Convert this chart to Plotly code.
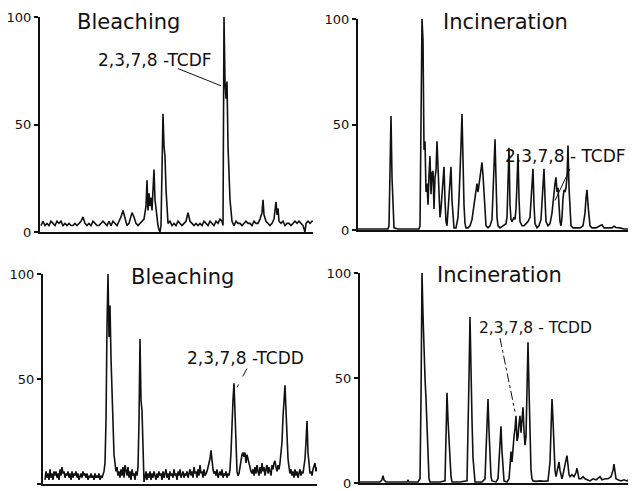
import plotly.graph_objects as go

# The figure is drawn 8px in from the window corner, so geometry is shifted to compensate.
PAGE_OFFSET = 8
W, H = 636 - PAGE_OFFSET, 491 - PAGE_OFFSET

# ---- data: (retention position, relative intensity %) ----
tcdf_bleaching = [
    (1,3),(3,5),(5,3),(7,4),(9,3),(11,5),(13,4),(15,3),(17,5),(19,4),
    (21,5),(23,3),(25,4),(27,3),(29,4),(31,3),(33,3),(35,4),(37,3),(39,4),
    (41,5),(43,7),(45,4),(47,3),(49,4),(51,3),(53,5),(55,4),(57,3),(59,3),
    (61,4),(63,5),(65,4),(67,3),(69,5),(71,3),(73,5),(75,4),(77,3),(79,5),
    (81,7),(83,10),(85,6),(87,3),(89,4),(91,7),(92,9),(94,7),(96,4),(98,3),
    (100,4),(102,5),(104,6),(106,12),(107,24),(108,10),(109,18),(110,12),(111,16),(112,10),
    (113,20),(114,29),(115,15),(116,10),(117,5),(118,3),(119,1),(120,0),(121,3),(122,30),
    (123,55),(124,40),(125,35),(126,20),(127,8),(128,4),(130,5),(132,3),(134,4),(136,3),
    (138,5),(140,4),(142,3),(144,4),(146,5),(148,9),(150,5),(152,4),(154,3),(156,4),
    (158,3),(160,4),(162,3),(164,5),(166,4),(168,3),(170,5),(172,4),(174,3),(176,5),
    (178,4),(180,6),(182,5),(183,3),(184,100),(185,70),(186,62),(187,70),(188,40),(190,15),
    (192,5),(194,3),(196,5),(198,4),(200,4),(202,3),(204,4),(206,5),(208,4),(210,4),
    (212,3),(214,5),(216,4),(218,4),(220,6),(222,9),(223,15),(224,8),(226,5),(228,4),
    (230,3),(232,4),(234,6),(235,10),(236,14),(237,8),(238,11),(239,5),(241,4),(243,5),
    (245,3),(247,4),(249,4),(251,3),(253,4),(255,5),(257,4),(259,5),(261,4),(263,3),
    (265,0),(266,4),(268,5),(270,4),(272,5),(273,5),
]

tcdf_incineration = [
    (0,.5),(10,.5),(20,.5),(30,.5),(31,2),(32,25),(33,54),(34,25),(35,10),(36,1),
    (40,.5),(50,.5),(61,.5),(62,2),(63,40),(64,100),(65,90),(66,38),(67,42),(68,18),
    (69,22),(70,12),(71,26),(72,35),(73,17),(74,27),(75,28),(76,10),(77,25),(78,28),
    (79,42),(80,26),(81,14),(82,6),(83,10),(84,18),(85,22),(86,30),(87,14),(88,4),
    (89,2),(90,10),(91,20),(92,26),(93,30),(94,14),(95,4),(96,1),(98,1),(100,6),
    (101,15),(102,25),(103,40),(104,55),(105,30),(106,12),(107,3),(108,1),(110,1),(112,2),
    (114,5),(116,12),(118,17),(119,22),(120,18),(121,21),(122,26),(123,29),(124,32),(125,26),
    (126,16),(127,6),(128,2),(130,1),(132,2),(134,5),(135,15),(136,30),(137,43),(138,22),
    (139,6),(140,2),(142,1),(145,2),(148,3),(149,6),(150,20),(151,39),(152,12),(153,5),
    (154,4),(155,5),(156,6),(157,5),(158,10),(159,22),(160,36),(161,15),(162,4),(164,2),
    (166,2),(168,3),(170,4),(172,6),(173,14),(174,22),(175,29),(176,12),(177,3),(179,1),
    (181,2),(183,5),(184,14),(185,22),(186,29),(187,15),(188,4),(190,2),(192,3),(194,8),
    (195,14),(196,20),(197,22),(198,25),(199,18),(200,20),(201,10),(202,4),(203,2),(204,6),
    (205,15),(206,19),(207,18),(208,20),(209,25),(210,40),(211,20),(212,6),(213,2),(215,1),
    (218,1),(222,1),(225,2),(227,8),(228,15),(229,19),(230,12),(231,5),(232,2),(234,1),
    (238,1),(242,2),(244,2.5),(246,1),(250,1),(254,1),(256,1.8),(258,1.2),(262,1),(266,.5),
    (273,.5),
]

tcdd_bleaching = [
    (2,2),(3,6),(4,3),(5,5),(6,2),(7,7),(8,3),(9,5),(10,2),(11,6),
    (12,4),(13,6),(14,3),(15,5),(16,2),(17,7),(18,4),(19,8),(20,5),(21,6),
    (22,3),(23,5),(24,4),(25,6),(26,3),(27,5),(28,2),(29,6),(30,3),(31,5),
    (32,4),(33,6),(34,3),(35,5),(36,2),(37,4),(38,5),(39,3),(40,6),(41,4),
    (42,5),(43,3),(44,5),(45,2),(46,4),(47,3),(48,5),(49,3),(50,4),(51,2),
    (52,5),(53,3),(54,4),(55,3),(56,5),(57,2),(58,4),(59,3),(60,5),(61,6),
    (62,10),(63,30),(64,75),(65,100),(66,70),(67,85),(68,60),(69,40),(70,20),(71,14),
    (72,10),(73,6),(74,8),(75,4),(76,6),(77,3),(78,7),(79,4),(80,8),(81,3),
    (82,9),(83,5),(84,4),(85,8),(86,3),(87,6),(88,2),(89,7),(90,4),(91,5),
    (92,2),(93,6),(94,4),(95,8),(96,30),(97,69),(98,40),(99,35),(100,20),(101,1),
    (102,3),(103,6),(104,2),(105,5),(106,3),(107,6),(108,2),(109,5),(110,3),(111,6),
    (112,4),(113,2),(114,5),(115,3),(116,6),(117,4),(118,5),(119,2),(120,6),(121,3),
    (122,5),(123,7),(124,3),(125,5),(126,2),(127,6),(128,4),(129,5),(130,3),(131,7),
    (132,4),(133,5),(134,2),(135,6),(136,4),(137,7),(138,3),(139,5),(140,6),(141,3),
    (142,5),(143,4),(144,6),(145,3),(146,5),(147,7),(148,4),(149,6),(150,3),(151,8),
    (152,5),(153,6),(154,3),(155,7),(156,4),(157,9),(158,5),(159,6),(160,3),(161,7),
    (162,4),(163,5),(164,6),(165,8),(166,10),(167,12),(168,16),(169,10),(170,7),(171,5),
    (172,6),(173,4),(174,7),(175,3),(176,5),(177,6),(178,4),(179,7),(180,3),(181,5),
    (182,4),(183,6),(184,3),(185,5),(186,4),(187,7),(188,15),(189,30),(190,40),(191,48),
    (192,30),(193,15),(194,6),(195,4),(196,5),(197,8),(198,12),(199,14),(200,15),(201,13),
    (202,15),(203,10),(204,14),(205,12),(206,9),(207,7),(208,6),(209,5),(210,7),(211,4),
    (212,8),(213,5),(214,9),(215,6),(216,4),(217,8),(218,5),(219,10),(220,6),(221,8),
    (222,4),(223,7),(224,9),(225,5),(226,8),(227,6),(228,4),(229,9),(230,7),(231,10),
    (232,11),(233,8),(234,6),(235,9),(236,7),(237,10),(238,14),(239,20),(240,32),(241,40),
    (242,47),(243,35),(244,22),(245,12),(246,8),(247,5),(248,7),(249,4),(250,6),(251,3),
    (252,7),(253,4),(254,6),(255,3),(256,5),(257,7),(258,4),(259,6),(260,5),(261,8),
    (262,12),(263,20),(264,30),(265,15),(266,8),(267,5),(268,6),(269,4),(270,7),(271,9),
    (272,10),(273,6),(274,8),
]

tcdd_incineration = [
    (0,.5),(10,.5),(20,.5),(22,1.5),(23,3.5),(24,1.5),(26,.5),(35,.5),(47,.5),(48,1.2),
    (49,.5),(58,.5),(60,2),(61,40),(62,100),(63,80),(64,60),(65,50),(66,40),(67,25),
    (68,8),(69,2),(70,.5),(80,.5),(85,1),(86,20),(87,43),(88,30),(89,20),(90,10),
    (91,3),(92,.5),(100,.5),(107,1),(108,20),(109,50),(110,79),(111,45),(112,30),(113,12),
    (114,3),(115,.5),(122,.5),(125,2),(126,15),(127,30),(128,40),(129,25),(130,12),(131,3),
    (132,1),(136,.5),(138,2),(139,10),(140,22),(141,27),(142,15),(143,5),(144,1),(147,.5),
    (149,2),(150,8),(151,15),(152,10),(153,18),(154,22),(155,26),(156,32),(157,20),(158,22),
    (159,28),(160,32),(161,24),(162,30),(163,36),(164,25),(165,18),(166,22),(167,40),(168,67),
    (169,45),(170,20),(171,6),(172,2),(173,1),(176,.8),(180,1),(184,.8),(188,1),(190,10),
    (191,30),(192,40),(193,30),(194,15),(195,6),(196,3),(197,5),(198,8),(199,10),(200,6),
    (201,3),(202,2),(203,4),(204,7),(205,9),(206,11),(207,13),(208,8),(209,4),(210,3),
    (212,4),(214,3),(216,5),(217,7),(218,4),(219,2),(221,2),(223,3),(225,2),(227,1.5),
    (230,1),(233,2),(236,1.5),(240,3),(242,1.5),(245,2),(248,2),(251,3),(253,6),(254,9),
    (255,5),(256,2),(258,1.5),(261,1),(264,1.5),(267,1),(270,2),(272,3),(274,2),(276,2.5),
]

titles = ["Bleaching", "Incineration", "Bleaching", "Incineration"]
compound_labels = ["2,3,7,8 -TCDF", "2,3,7,8 - TCDF", "2,3,7,8 -TCDD", "2,3,7,8 - TCDD"]
tick_vals = [0, 50, 100]
tick_text = ["0", "50", "100"]

series = [tcdf_bleaching, tcdf_incineration, tcdd_bleaching, tcdd_incineration]

# ---- layout geometry (window pixels): axis x, axis end x, y of 0, y of 100 ----
geom = [
    (40, 313, 232, 17),
    (358, 631, 230, 19),
    (43, 317, 484, 274),
    (360, 636, 483, 273),
]
# title / label positions in data units of each panel
title_pos = [(88, 97.5), (147, 98.5), (139, 98.5), (139, 99)]
label_pos = [(115, 80), (207, 35), (202, 60), (175, 74)]
label_size = [17, 17, 17, 15.5]
pointers = [  # (x0, y0, x1, y1, dash)
    (138, 76, 181, 68, "solid"),
    (212, 29, 197, 14, "solid"),
    (204, 55, 194, 46, "dash"),
    (140, 69, 155, 34, "dashdot"),
]

FONT = "DejaVu Sans"
INK = "#111111"

fig = go.Figure()
layout = dict(
    width=W, height=H, autosize=False,
    margin=dict(l=0, r=0, t=0, b=0, pad=0),
    paper_bgcolor="white", plot_bgcolor="white",
    showlegend=False, annotations=[], shapes=[],
)

for i, (data, (x0, x1, y0, y100)) in enumerate(zip(series, geom)):
    n = "" if i == 0 else str(i + 1)
    xs = [p[0] for p in data]
    ys = [p[1] for p in data]
    fx0, fx1 = x0 - PAGE_OFFSET, x1 - PAGE_OFFSET
    fy0, fy100 = y0 - PAGE_OFFSET, y100 - PAGE_OFFSET
    fig.add_trace(go.Scatter(
        x=xs, y=ys, mode="lines", xaxis="x" + n, yaxis="y" + n,
        line=dict(color=INK, width=1.6), hoverinfo="skip", cliponaxis=False,
    ))
    layout["xaxis" + n] = dict(
        domain=[fx0 / W, min(fx1 / W, 1)], range=[0, x1 - x0], anchor="y" + n,
        showline=True, linecolor=INK, linewidth=2, showgrid=False,
        zeroline=False, showticklabels=False, ticks="", fixedrange=True,
        automargin=False,
    )
    layout["yaxis" + n] = dict(
        domain=[max(1 - fy0 / H, 0), 1 - fy100 / H], range=[0, 100], anchor="x" + n,
        showline=True, linecolor=INK, linewidth=2, showgrid=False,
        zeroline=False, tickvals=tick_vals, ticktext=tick_text,
        ticks="outside", ticklen=4, tickwidth=1.5, tickcolor=INK,
        tickfont=dict(family=FONT, size=13, color=INK), fixedrange=True,
        automargin=False,
    )
    tx, ty = title_pos[i]
    layout["annotations"].append(dict(
        x=tx, y=ty, xref="x" + n, yref="y" + n, text=titles[i], showarrow=False,
        font=dict(family=FONT, size=21, color=INK), xanchor="center", yanchor="middle",
    ))
    lx, ly = label_pos[i]
    layout["annotations"].append(dict(
        x=lx, y=ly, xref="x" + n, yref="y" + n, text=compound_labels[i], showarrow=False,
        font=dict(family=FONT, size=label_size[i], color=INK), xanchor="center", yanchor="middle",
    ))
    px0, py0, px1, py1, dash = pointers[i]
    layout["shapes"].append(dict(
        type="line", xref="x" + n, yref="y" + n, x0=px0, y0=py0, x1=px1, y1=py1,
        line=dict(color=INK, width=1, dash=dash),
    ))

fig.update_layout(**layout)
fig.write_html("out.html")
